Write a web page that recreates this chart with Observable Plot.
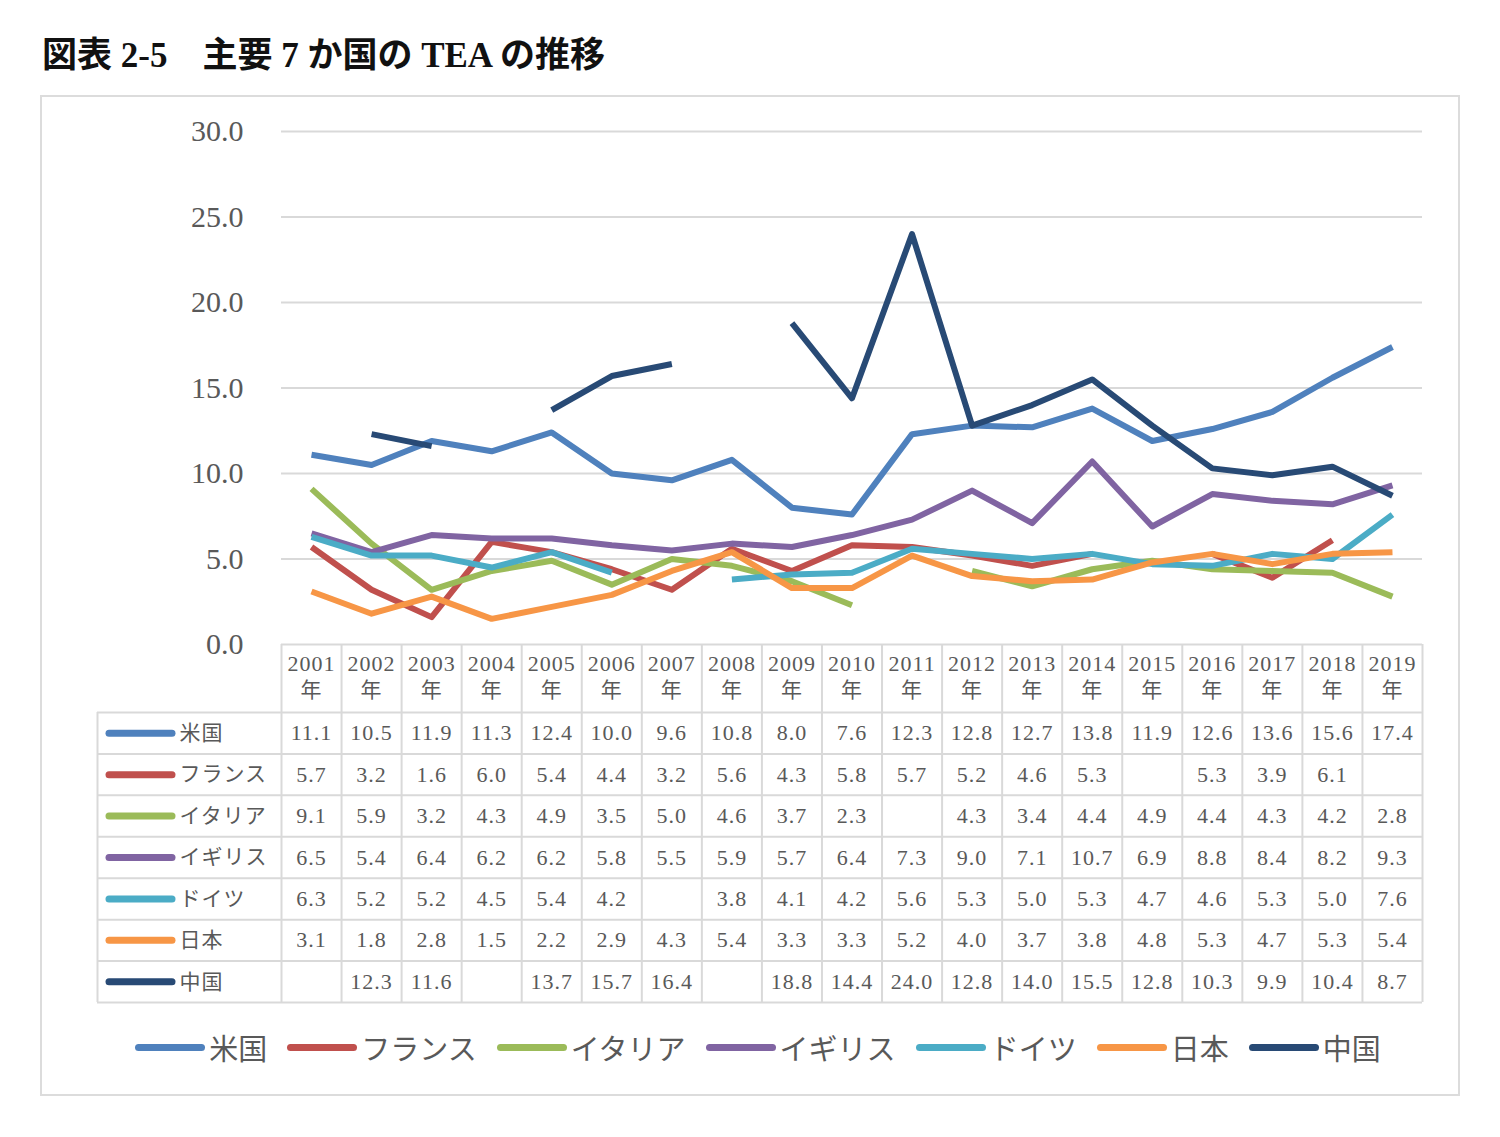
<!DOCTYPE html>
<html><head><meta charset="utf-8">
<script src="https://cdn.jsdelivr.net/npm/d3@7"></script>
<script src="https://cdn.jsdelivr.net/npm/@observablehq/plot@0.6"></script>
<style>
body{margin:0;background:#fff;width:1500px;height:1137px;position:relative;overflow:hidden;font-family:"Liberation Serif","Noto Sans CJK JP",serif;}
#title{position:absolute;left:42px;top:35px;font-size:35px;line-height:42px;font-weight:bold;color:#111;white-space:pre;}
#box{position:absolute;left:40px;top:95px;width:1416px;height:997px;border:2px solid #dcdcdc;}
#chart{position:absolute;left:0;top:110px;}
#table{position:absolute;left:0;top:644px;}
#legend{position:absolute;left:8px;width:1500px;top:1027px;height:40px;display:flex;justify-content:center;align-items:center;}
.item{display:flex;align-items:center;margin:0 10px;}
.sw{display:inline-block;width:70px;height:7px;border-radius:4px;margin-right:4px;}
.lab{font-size:29px;line-height:40px;color:#595959;font-family:"Noto Sans CJK JP",sans-serif;}
</style></head>
<body>
<div id="title">図表 2-5　主要 7 か国の TEA の推移</div>
<div id="box"></div>
<div id="chart"></div>
<div id="table"></div>
<div id="legend"></div>
<script>
const years = [2001,2002,2003,2004,2005,2006,2007,2008,2009,2010,2011,2012,2013,2014,2015,2016,2017,2018,2019];
const seriesNames = ["米国","フランス","イタリア","イギリス","ドイツ","日本","中国"];
const seriesColors = ["#4F81BD","#C0504D","#9BBB59","#8064A2","#4BACC6","#F79646","#284A75"];
const usa     = [11.1,10.5,11.9,11.3,12.4,10.0,9.6,10.8,8.0,7.6,12.3,12.8,12.7,13.8,11.9,12.6,13.6,15.6,17.4];
const france  = [5.7,3.2,1.6,6.0,5.4,4.4,3.2,5.6,4.3,5.8,5.7,5.2,4.6,5.3,null,5.3,3.9,6.1,null];
const italy   = [9.1,5.9,3.2,4.3,4.9,3.5,5.0,4.6,3.7,2.3,null,4.3,3.4,4.4,4.9,4.4,4.3,4.2,2.8];
const uk      = [6.5,5.4,6.4,6.2,6.2,5.8,5.5,5.9,5.7,6.4,7.3,9.0,7.1,10.7,6.9,8.8,8.4,8.2,9.3];
const germany = [6.3,5.2,5.2,4.5,5.4,4.2,null,3.8,4.1,4.2,5.6,5.3,5.0,5.3,4.7,4.6,5.3,5.0,7.6];
const japan   = [3.1,1.8,2.8,1.5,2.2,2.9,4.3,5.4,3.3,3.3,5.2,4.0,3.7,3.8,4.8,5.3,4.7,5.3,5.4];
const china   = [null,12.3,11.6,null,13.7,15.7,16.4,null,18.8,14.4,24.0,12.8,14.0,15.5,12.8,10.3,9.9,10.4,8.7];
const seriesValues = [usa,france,italy,uk,germany,japan,china];
const yTicks = [0,5,10,15,20,25,30];

const series = seriesNames.map((name,i)=>({name, color:seriesColors[i], row:i, values:seriesValues[i]}));
const rows = series.flatMap(s => years.map((y,j)=>({series:s.name, row:s.row, color:s.color, year:y, value: s.values[j]==null?NaN:s.values[j]})));
const fmt = d3.format(".1f");
const FONT = "'Liberation Serif','Noto Sans CJK JP',serif";
const GRID = "#d9d9d9";
const TXT = "#595959";

// Line chart
const chart = Plot.plot({
  width:1500, height:556, marginLeft:281, marginRight:78, marginTop:21, marginBottom:22,
  style:{background:"transparent", fontFamily:FONT, fontSize:"30px", color:TXT},
  x:{type:"linear", domain:[2000.5,2019.5], axis:null},
  y:{domain:[0,30], ticks:yTicks, tickFormat:".1f", tickSize:0, tickPadding:38, label:null},
  marks:[
    Plot.ruleY(yTicks, {stroke:GRID, strokeWidth:2}),
    ...series.map(s => Plot.line(rows.filter(d=>d.series===s.name), {
      x:"year", y:"value", stroke:s.color, strokeWidth:6, strokeLinejoin:"round", strokeLinecap:"butt"
    }))
  ]
});
document.getElementById("chart").appendChild(chart);

// Data table
const bounds = years.map(y=>y-0.5).concat([years[years.length-1]+0.5]);
const rowLines = d3.range(series.length+1);
const table = Plot.plot({
  width:1500, height:362, marginLeft:281, marginRight:78, marginTop:68, marginBottom:4,
  style:{background:"transparent", fontFamily:FONT, fontSize:"22px", color:TXT, letterSpacing:"1px"},
  x:{type:"linear", domain:[2000.5,2019.5], axis:null},
  y:{domain:[series.length,0], axis:null},
  color:{type:"identity"},
  marks:[
    Plot.ruleY(rowLines, {stroke:GRID, strokeWidth:2, insetLeft:-184}),
    Plot.ruleX(bounds, {stroke:GRID, strokeWidth:2, insetTop:-68}),
    Plot.ruleX([bounds[0]], {stroke:GRID, strokeWidth:2, dx:-184}),
    Plot.text(years, {x:d=>d, text:d=>String(d), frameAnchor:"top", lineAnchor:"middle", dy:-49, fontSize:22, fill:TXT}),
    Plot.text(years, {x:d=>d, text:()=>"年", frameAnchor:"top", lineAnchor:"middle", dy:-22, fontSize:21, fill:TXT}),
    Plot.text(rows.filter(d=>!isNaN(d.value)), {x:"year", y:d=>d.row+0.5, text:d=>fmt(d.value), fontSize:22, fill:TXT}),
    Plot.ruleY(series, {y:d=>d.row+0.5, stroke:"color", strokeWidth:7, strokeLinecap:"round", insetLeft:-172, insetRight:1250}),
    Plot.text(series, {y:d=>d.row+0.5, text:"name", frameAnchor:"left", textAnchor:"start", dx:-102, fontSize:21, fill:TXT, fontFamily:"'Noto Sans CJK JP',sans-serif"})
  ]
});
document.getElementById("table").appendChild(table);

// Legend
const lg = d3.select("#legend");
series.forEach(s=>{
  const it = lg.append("div").attr("class","item");
  it.append("span").attr("class","sw").style("background", s.color);
  it.append("span").attr("class","lab").text(s.name);
});
</script>
</body></html>
